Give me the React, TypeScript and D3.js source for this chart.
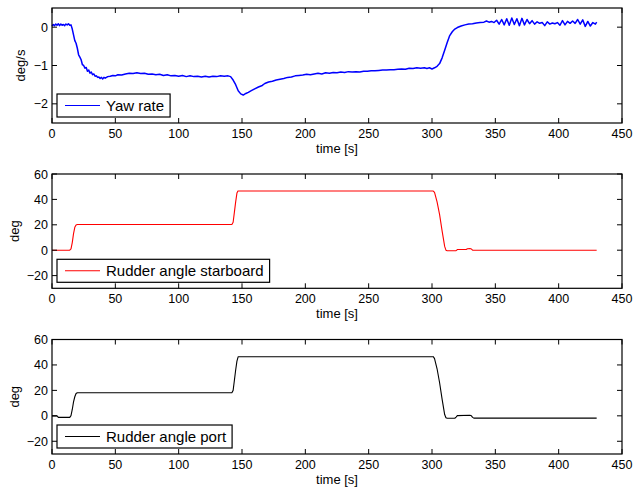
import React, { useEffect, useRef } from "react";
import * as d3 from "d3";

// ---------- data ----------
const yawTime = [
  0, 1, 2, 3, 4, 5, 6, 7, 8, 9, 10, 11, 12, 13, 14, 15, 16, 17, 18, 19, 20, 21, 22, 23, 24, 25, 26, 27, 28, 29,
  30, 31, 32, 33, 34, 35, 36, 37, 38, 39, 40, 41, 42, 44, 46, 48, 50, 52, 55, 58, 61, 64, 67, 70, 73, 76, 79,
  82, 85, 88, 91, 94, 97, 100, 103, 106, 109, 112, 115, 118, 121, 124, 127, 130, 133, 136, 139, 141, 143, 145,
  147, 149, 151, 153, 155, 157, 160, 163, 166, 168, 171, 174, 177, 180, 183, 186, 189, 192, 195, 198, 201, 204,
  207, 210, 213, 216, 219, 222, 225, 228, 231, 234, 237, 240, 243, 246, 249, 252, 255, 258, 261, 264, 267, 270,
  273, 276, 279, 282, 285, 288, 291, 294, 296, 298, 300, 302, 304, 306, 308, 310, 312, 314, 316, 318, 320, 323,
  326, 329, 332, 335, 338, 341, 343, 345, 347, 349, 351, 353, 355, 357, 359, 361, 363, 365, 367, 369, 371, 373,
  375, 377, 379, 381, 383, 385, 387, 389, 391, 393, 395, 397, 399, 401, 403, 405, 407, 409, 411, 413, 415, 417,
  419, 421, 423, 425, 427, 429, 430,
];
const yawRate = [
  0.03, 0.07, 0.04, 0.08, 0.05, 0.09, 0.04, 0.08, 0.05, 0.07, 0.04, 0.08, 0.06, 0.09, 0.05, 0.06, -0.05, -0.2,
  -0.35, -0.42, -0.55, -0.72, -0.78, -0.85, -0.98, -1.0, -1.07, -1.05, -1.15, -1.12, -1.2, -1.17, -1.24, -1.22,
  -1.28, -1.27, -1.31, -1.3, -1.34, -1.31, -1.35, -1.31, -1.33, -1.29, -1.28, -1.26, -1.27, -1.24, -1.25, -1.22,
  -1.2, -1.21, -1.19, -1.21, -1.2, -1.23, -1.22, -1.24, -1.23, -1.26, -1.24, -1.27, -1.26, -1.28, -1.26, -1.29,
  -1.27, -1.29, -1.28, -1.3, -1.28, -1.3, -1.28, -1.29, -1.27, -1.28, -1.27, -1.29, -1.38, -1.5, -1.66, -1.74,
  -1.77, -1.73, -1.7, -1.66, -1.61, -1.56, -1.52, -1.47, -1.43, -1.41, -1.38, -1.36, -1.34, -1.31, -1.3, -1.27,
  -1.26, -1.25, -1.23, -1.24, -1.22, -1.2, -1.22, -1.19, -1.2, -1.18, -1.19, -1.17, -1.18, -1.16, -1.17, -1.16,
  -1.17, -1.15, -1.15, -1.14, -1.14, -1.13, -1.12, -1.12, -1.11, -1.11, -1.1, -1.09, -1.1, -1.07, -1.08, -1.06,
  -1.07, -1.06, -1.08, -1.06, -1.09, -1.06, -1.02, -0.95, -0.8, -0.6, -0.4, -0.22, -0.12, -0.05, -0.01, 0.03,
  0.06, 0.08, 0.09, 0.11, 0.12, 0.13, 0.16, 0.13, 0.15, 0.12, 0.18, 0.08, 0.2, 0.06, 0.22, 0.05, 0.24, 0.07,
  0.22, 0.04, 0.23, 0.06, 0.2, 0.09, 0.17, 0.08, 0.14, 0.1, 0.12, 0.04, 0.14, 0.08, 0.11, 0.09, 0.12, 0.05,
  0.17, 0.06, 0.15, 0.1, 0.16, 0.1, 0.2, 0.08, 0.19, 0.02, 0.15, 0.03, 0.12, 0.08, 0.13,
];

const starTime = [0, 14, 15, 16, 17, 18, 19, 20, 142, 143, 144, 145, 146, 146.8, 301, 302, 304, 306, 308, 310, 311, 312, 319, 320, 327, 328, 330, 331, 332, 430];
const starAngle = [0, 0, 1, 6, 13, 18, 19.8, 20.2, 20.2, 22, 30, 38, 45, 46.6, 46.6, 45.5, 38, 28, 15, 3, 0, -0.4, -0.4, 0.5, 0.6, 1.2, 1.3, 1.0, 0, 0];

const portTime = [0, 4, 5, 14, 15, 16, 17, 18, 19, 20, 142, 143, 144, 145, 146, 147, 301, 302, 304, 306, 308, 310, 311, 312, 318, 319, 320, 330, 331, 332, 333, 430];
const portAngle = [0, 0, -1.2, -1.2, 0.2, 5, 11, 15, 17.5, 18.2, 18.2, 20, 28, 36, 43, 46.5, 46.5, 45, 37, 26, 13, 1, -1.5, -1.9, -1.9, -1.0, 0.2, 0.4, 0.1, -1.2, -1.8, -1.8];

const xTicks = [0, 50, 100, 150, 200, 250, 300, 350, 400, 450];
const yawTicks = [-2, -1, 0];
const degTicks = [-20, 0, 20, 40, 60];

const xLabel = "time [s]";
const panels = [
  { t: yawTime, v: yawRate, domain: [-2.5, 0.5], ticks: yawTicks, ylabel: "deg/s", legend: "Yaw rate", color: "#0000ff", width: 1.5, top: 8, bottom: 123, ylabelX: 25 },
  { t: starTime, v: starAngle, domain: [-30, 60], ticks: degTicks, ylabel: "deg", legend: "Rudder angle starboard", color: "#ff0000", width: 1.1, top: 174, bottom: 288.3, ylabelX: 19 },
  { t: portTime, v: portAngle, domain: [-30, 60], ticks: degTicks, ylabel: "deg", legend: "Rudder angle port", color: "#000000", width: 1.1, top: 339.5, bottom: 454, ylabelX: 19 },
];

const LEFT = 52;
const RIGHT = 622;
const FONT = "'Liberation Sans', Arial, Helvetica, sans-serif";
const fmt = (d: number) => (d < 0 ? "\u2212" + Math.abs(d) : String(d));

export default function App() {
  const ref = useRef<SVGSVGElement | null>(null);

  useEffect(() => {
    const svg = d3.select(ref.current);
    svg.selectAll("*").remove();
    const x = d3.scaleLinear().domain([0, 450]).range([LEFT, RIGHT]);

    panels.forEach((p) => {
      const y = d3.scaleLinear().domain(p.domain).range([p.bottom, p.top]);
      const g = svg.append("g");

      // data line
      const pts: [number, number][] = p.t.map((t, i) => [t, p.v[i]]);
      const line = d3
        .line<[number, number]>()
        .x((d) => x(d[0]))
        .y((d) => y(d[1]));
      g.append("path")
        .attr("d", line(pts) as string)
        .attr("fill", "none")
        .attr("stroke", p.color)
        .attr("stroke-width", p.width)
        .attr("stroke-linejoin", "round");

      // ticks (inside, on all four sides)
      const tl = 5;
      xTicks.forEach((t) => {
        const xx = x(t);
        g.append("line").attr("x1", xx).attr("x2", xx).attr("y1", p.bottom).attr("y2", p.bottom - tl).attr("stroke", "#000").attr("stroke-width", 1);
        g.append("line").attr("x1", xx).attr("x2", xx).attr("y1", p.top).attr("y2", p.top + tl).attr("stroke", "#000").attr("stroke-width", 1);
        g.append("text")
          .attr("x", xx)
          .attr("y", p.bottom + 15)
          .attr("text-anchor", "middle")
          .attr("font-family", FONT)
          .attr("font-size", 12.5)
          .attr("fill", "#000")
          .text(fmt(t));
      });
      p.ticks.forEach((t) => {
        const yy = y(t);
        g.append("line").attr("x1", LEFT).attr("x2", LEFT + tl).attr("y1", yy).attr("y2", yy).attr("stroke", "#000").attr("stroke-width", 1);
        g.append("line").attr("x1", RIGHT).attr("x2", RIGHT - tl).attr("y1", yy).attr("y2", yy).attr("stroke", "#000").attr("stroke-width", 1);
        g.append("text")
          .attr("x", LEFT - 4)
          .attr("y", yy + 4.5)
          .attr("text-anchor", "end")
          .attr("font-family", FONT)
          .attr("font-size", 12.5)
          .attr("fill", "#000")
          .text(fmt(t));
      });

      // box
      g.append("rect")
        .attr("x", LEFT)
        .attr("y", p.top)
        .attr("width", RIGHT - LEFT)
        .attr("height", p.bottom - p.top)
        .attr("fill", "none")
        .attr("stroke", "#000")
        .attr("stroke-width", 1.2);

      // labels
      g.append("text")
        .attr("x", (LEFT + RIGHT) / 2)
        .attr("y", p.bottom + 30)
        .attr("text-anchor", "middle")
        .attr("font-family", FONT)
        .attr("font-size", 13)
        .attr("fill", "#000")
        .text(xLabel);
      g.append("text")
        .attr("transform", `translate(${p.ylabelX},${(p.top + p.bottom) / 2}) rotate(-90)`)
        .attr("text-anchor", "middle")
        .attr("font-family", FONT)
        .attr("font-size", 13)
        .attr("fill", "#000")
        .text(p.ylabel);

      // legend
      const boxBottom = p.bottom - 6;
      const boxTop = boxBottom - 23;
      const lineY = boxTop + 11.5;
      const lg = g.append("g");
      const rect = lg
        .append("rect")
        .attr("x", 57)
        .attr("y", boxTop)
        .attr("height", boxBottom - boxTop)
        .attr("fill", "#fff")
        .attr("stroke", "#000")
        .attr("stroke-width", 1.2);
      lg.append("line").attr("x1", 65).attr("x2", 100).attr("y1", lineY).attr("y2", lineY).attr("stroke", p.color).attr("stroke-width", 1.1);
      const txt = lg
        .append("text")
        .attr("x", 106)
        .attr("y", lineY + 5.3)
        .attr("font-family", FONT)
        .attr("font-size", 15)
        .attr("fill", "#000")
        .text(p.legend);
      const w = (txt.node() as SVGTextElement).getComputedTextLength();
      rect.attr("width", 106 + w + 6 - 57);
    });
  }, []);

  return (
    <svg
      ref={ref}
      width={635}
      height={488}
      style={{ position: "absolute", left: 0, top: 0, display: "block", background: "#fff" }}
    />
  );
}
